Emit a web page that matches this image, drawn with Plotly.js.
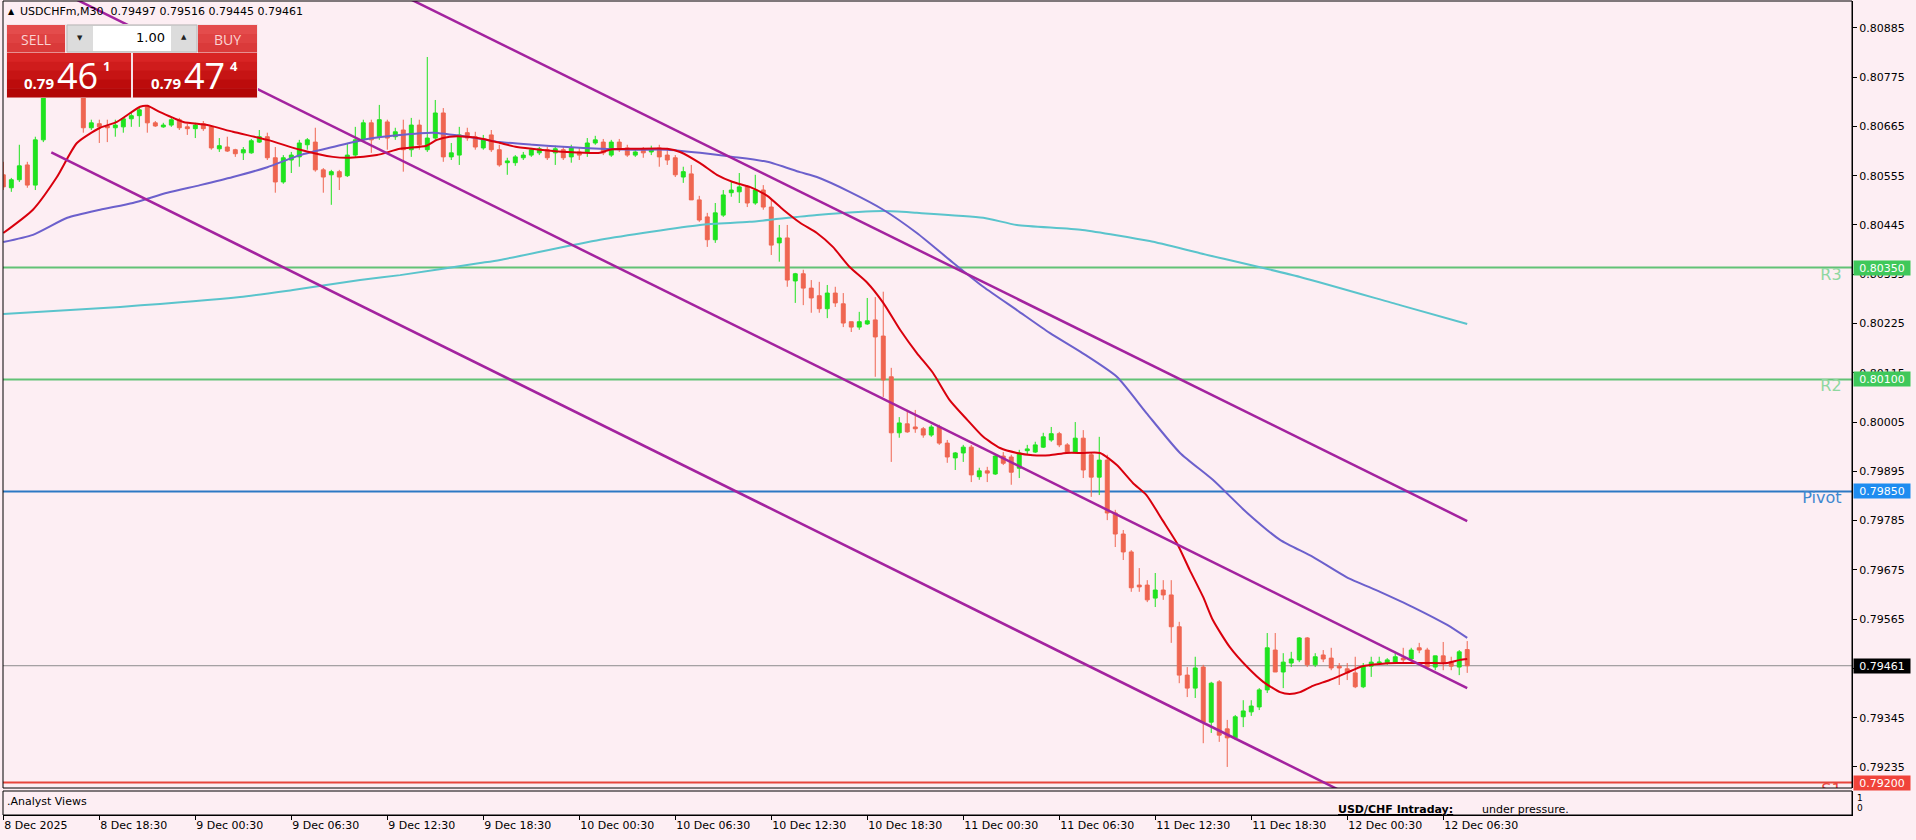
<!DOCTYPE html>
<html><head><meta charset="utf-8">
<script src="https://cdn.plot.ly/plotly-3.0.1.min.js"></script>
<style>html,body{margin:0;padding:0;background:#fdeef3;}#chart{width:1916px;height:840px;}</style>
</head><body><div id="chart"></div>
<script>
// ---------- DATA (USDCHFm, M30, 8 Dec 12:30 .. 12 Dec 08:00) ----------
const opens = [.80557,.80528,.80546,.80579,.80534,.80635,.80747,.80773,.80756,.80782,
.80747,.80662,.80671,.80666,.80662,.80664,.80682,.80689,.80709,.80673,
.80664,.80668,.80680,.80664,.80660,.80671,.80664,.80615,.80619,.80613,
.80606,.80606,.80630,.80642,.80595,.80541,.80590,.80597,.80624,.80630,
.80568,.80557,.80564,.80555,.80601,.80635,.80673,.80642,.80675,.80642,
.80657,.80613,.80668,.80613,.80639,.80695,.80597,.80601,.80651,.80642,
.80617,.80646,.80613,.80584,.80584,.80595,.80601,.80606,.80613,.80606,
.80613,.80597,.80608,.80608,.80628,.80630,.80601,.80630,.80617,.80601,
.80613,.80608,.80617,.80601,.80595,.80552,.80559,.80501,.80463,.80412,
.80467,.80517,.80519,.80530,.80494,.80523,.80485,.80405,.80416,.80320,
.80336,.80304,.80287,.80258,.80293,.80269,.80229,.80217,.80224,.80233,
.80197,.80106,.79981,.80001,.79994,.79990,.79976,.79994,.79958,.79925,
.79936,.79949,.79883,.79896,.79889,.79929,.79927,.79902,.79941,.79938,
.79949,.79965,.79979,.79954,.79938,.79969,.79932,.79882,.79920,.79802,
.79755,.79715,.79641,.79641,.79612,.79630,.79619,.79548,.79440,.79411,
.79458,.79335,.79425,.79320,.79300,.79347,.79358,.79369,.79407,.79496,
.79447,.79467,.79474,.79523,.79463,.79485,.79478,.79460,.79454,.79445,
.79414,.79460,.79467,.79467,.79469,.79478,.79476,.79501,.79496,.79458,
.79483,.79469,.79458,.79497];
const highs = [.80586,.80550,.80624,.80586,.80642,.80769,.80791,.80787,.80796,.80791,
.80758,.80680,.80680,.80680,.80680,.80686,.80695,.80706,.80713,.80677,
.80673,.80684,.80684,.80671,.80673,.80677,.80668,.80639,.80642,.80615,
.80619,.80637,.80657,.80651,.80619,.80601,.80608,.80635,.80639,.80662,
.80572,.80568,.80568,.80628,.80664,.80680,.80680,.80713,.80680,.80662,
.80680,.80684,.80680,.80820,.80724,.80706,.80628,.80664,.80662,.80653,
.80646,.80657,.80624,.80595,.80601,.80608,.80617,.80619,.80619,.80622,
.80619,.80624,.80617,.80639,.80644,.80637,.80635,.80637,.80624,.80615,
.80619,.80622,.80624,.80613,.80601,.80575,.80579,.80510,.80472,.80494,
.80523,.80541,.80561,.80534,.80557,.80534,.80501,.80445,.80445,.80338,
.80345,.80322,.80318,.80311,.80307,.80293,.80229,.80251,.80282,.80284,
.80296,.80126,.80016,.80032,.80032,.79994,.79999,.79999,.79965,.79938,
.79954,.79954,.79903,.79905,.79934,.79938,.79932,.79943,.79954,.79961,
.79981,.79994,.79983,.79958,.80005,.79987,.79936,.79972,.79932,.79809,
.79764,.79719,.79679,.79652,.79668,.79652,.79652,.79559,.79458,.79481,
.79463,.79425,.79429,.79340,.79351,.79384,.79384,.79411,.79534,.79534,
.79489,.79492,.79525,.79525,.79489,.79496,.79501,.79467,.79467,.79481,
.79467,.79481,.79481,.79478,.79492,.79501,.79501,.79512,.79501,.79478,
.79514,.79481,.79496,.79516];
const lows = [.80523,.80519,.80541,.80528,.80523,.80630,.80735,.80742,.80747,.80733,
.80651,.80657,.80628,.80630,.80642,.80651,.80664,.80664,.80651,.80664,
.80662,.80664,.80657,.80646,.80639,.80655,.80613,.80608,.80608,.80597,
.80590,.80604,.80628,.80590,.80517,.80537,.80561,.80575,.80613,.80564,
.80517,.80490,.80523,.80552,.80597,.80630,.80606,.80635,.80613,.80635,
.80564,.80597,.80613,.80608,.80635,.80586,.80590,.80579,.80633,.80613,
.80613,.80608,.80575,.80557,.80577,.80590,.80597,.80601,.80590,.80579,
.80590,.80584,.80590,.80597,.80624,.80601,.80597,.80608,.80597,.80597,
.80595,.80601,.80575,.80579,.80552,.80539,.80501,.80452,.80396,.80405,
.80463,.80508,.80494,.80485,.80490,.80479,.80378,.80363,.80307,.80271,
.80266,.80249,.80249,.80237,.80262,.80217,.80206,.80211,.80222,.80106,
.80061,.79916,.79970,.79981,.79981,.79970,.79972,.79954,.79914,.79898,
.79916,.79871,.79876,.79871,.79887,.79909,.79865,.79880,.79932,.79936,
.79947,.79961,.79949,.79936,.79936,.79880,.79838,.79842,.79786,.79726,
.79697,.79626,.79626,.79603,.79592,.79608,.79512,.79422,.79391,.79389,
.79288,.79311,.79291,.79235,.79295,.79324,.79349,.79362,.79400,.79447,
.79411,.79458,.79469,.79458,.79458,.79469,.79451,.79418,.79429,.79411,
.79411,.79436,.79463,.79463,.79467,.79469,.79474,.79489,.79456,.79451,
.79451,.79451,.79440,.79445];
const closes = [.80530,.80546,.80577,.80534,.80635,.80747,.80773,.80756,.80782,.80747,
.80662,.80673,.80664,.80662,.80668,.80682,.80689,.80702,.80673,.80666,
.80668,.80680,.80662,.80660,.80668,.80660,.80617,.80622,.80610,.80604,
.80613,.80633,.80642,.80595,.80541,.80595,.80601,.80628,.80635,.80568,
.80552,.80564,.80552,.80601,.80635,.80673,.80635,.80680,.80639,.80653,
.80613,.80668,.80624,.80639,.80695,.80597,.80606,.80646,.80639,.80619,
.80635,.80613,.80579,.80588,.80597,.80601,.80613,.80615,.80595,.80615,
.80595,.80617,.80601,.80628,.80635,.80606,.80630,.80613,.80601,.80608,
.80606,.80615,.80597,.80590,.80557,.80564,.80501,.80456,.80412,.80472,
.80512,.80523,.80530,.80494,.80523,.80485,.80400,.80416,.80322,.80336,
.80304,.80282,.80258,.80293,.80271,.80226,.80217,.80229,.80231,.80195,
.80099,.79981,.80003,.79983,.79990,.79976,.79994,.79958,.79927,.79936,
.79949,.79887,.79896,.79891,.79929,.79913,.79893,.79936,.79945,.79954,
.79972,.79979,.79954,.79938,.79969,.79898,.79882,.79920,.79802,.79755,
.79715,.79635,.79637,.79608,.79630,.79619,.79548,.79440,.79411,.79456,
.79335,.79422,.79306,.79300,.79347,.79360,.79371,.79407,.79501,.79447,
.79469,.79476,.79523,.79463,.79481,.79476,.79456,.79456,.79445,.79414,
.79460,.79469,.79469,.79474,.79481,.79474,.79496,.79496,.79458,.79483,
.79469,.79460,.79492,.79461];

const xTickIdx  = [0,12,24,36,48,60,72,84,96,108,120,132,144,156,168,180];
const xTickText = ['8 Dec 2025','8 Dec 18:30','9 Dec 00:30','9 Dec 06:30','9 Dec 12:30','9 Dec 18:30',
  '10 Dec 00:30','10 Dec 06:30','10 Dec 12:30','10 Dec 18:30','11 Dec 00:30','11 Dec 06:30',
  '11 Dec 12:30','11 Dec 18:30','12 Dec 00:30','12 Dec 06:30'];

// moving averages (bar position, price)
const maRedX = [0,3.7,6.7,9.2,12.1,14.2,17.1,18,19.6,22.5,25.5,28.7,33,37.1,41.2,43.3,46.7,49.6,52.9,54.2,55.8,58,60,62.1,64.2,67.1,70.5,74.6,75.8,78.7,83,84.6,87.1,89.2,91.2,93.3,95.5,97.5,99.6,101.7,103.7,105.8,108,110,112.1,114.2,116.2,118.3,120.5,122.5,124.6,126.7,128.7,130.8,132.9,134.9,137.1,139.2,141.2,142.9,144.9,146.7,148.3,150,151.2,153.3,155.5,157.5,159.6,160.8,162.1,163.7,165.8,167.9,169.9,172.1,174.2,176.2,178.3,180.5,182.1,183];
const maRedY = [.80427,.80479,.80552,.80628,.80662,.80675,.80709,.80711,.80697,.80675,.80668,.80653,.80635,.80613,.80597,.80595,.80601,.80615,.80622,.80635,.80642,.80642,.80637,.80628,.80619,.80613,.80608,.80606,.80613,.80615,.80615,.80608,.80583,.80557,.80541,.80530,.80510,.80479,.80450,.80427,.80396,.80351,.80316,.80271,.80211,.80159,.80115,.80054,.80010,.79972,.79947,.79936,.79931,.79931,.79936,.79936,.79936,.79909,.79869,.79842,.79786,.79735,.79675,.79614,.79563,.79503,.79458,.79425,.79402,.79398,.79402,.79416,.79429,.79445,.79460,.79465,.79467,.79467,.79467,.79467,.79474,.79476];
const maBlueX = [0,3.7,8,12.1,16.2,20.5,24.6,28.7,33,37.1,41.2,45.5,49.6,53.7,58,62.1,66.2,70.5,74.6,78.7,83,87.1,91.2,95.5,99.6,101.7,105.8,110,114.2,118.3,122.5,126.7,130.8,134.9,139.2,142.9,147.1,151.2,155.5,159.6,163.7,167.9,172.1,176.2,180.5,183];
const maBlueY = [.80407,.80423,.80461,.80479,.80494,.80517,.80534,.80552,.80574,.80601,.80619,.80637,.80646,.80651,.80642,.80630,.80624,.80619,.80615,.80613,.80613,.80606,.80597,.80586,.80563,.80552,.80519,.80479,.80427,.80367,.80307,.80255,.80204,.80159,.80106,.80025,.79936,.79876,.79802,.79742,.79704,.79659,.79626,.79592,.79552,.79523];
const maCyanX = [0,14.6,29.6,36.2,44.6,49.6,59.6,62.1,74.6,87.1,93.3,101.7,110,114.2,122.5,126.7,134.9,143.3,149.6,162.1,174.6,183];
const maCyanY = [.80246,.80262,.80284,.80300,.80322,.80333,.80360,.80367,.80412,.80445,.80452,.80467,.80476,.80472,.80461,.80445,.80434,.80409,.80382,.80329,.80266,.80224];

// channel lines (bar position of ends, price at ends)
const channelX = [[40,183],[0,183],[6,183]];
const channelY = [[0.81045,0.79784],[0.81029,0.79411],[0.80607,0.79042]];

// pivot levels
const levelNames  = ['R3','R2','Pivot','S1'];
const levelValues = [0.80350,0.80100,0.79850,0.79200];
const levelLine   = ['#62c276','#62c276','#2c78c4','#e8453c'];
const levelBox    = ['#3fc85a','#3fc85a','#1e8cf0','#f0433a'];
const levelText   = ['#8fd7a0','#8fd7a0','#3f88d0','#e8453c'];

const askPrice = 0.79474;
const symbolName = 'USDCHFm,M30';
const lotSize = '1.00';
const analystHead = 'USD/CHF Intraday:';
const analystText = 'under pressure.';

// ---------- DRAWING ----------
const BG = '#fdeef3';
const n = closes.length;
const barIndex = closes.map((_, i) => i);
const bidPrice = closes[n - 1];

const L0 = 3, R0 = 1852, T0 = 1, B0 = 815;
const px = v => (v - L0) / (R0 - L0);
const py = v => (B0 - v) / (B0 - T0);
const mainBottom = 788, subTop = 791;

const traces = [];
traces.push({
  type: 'candlestick', x: barIndex, open: opens, high: highs, low: lows, close: closes,
  increasing: {line: {color: '#1fe31f', width: 1}, fillcolor: '#1fe31f'},
  decreasing: {line: {color: '#ef6651', width: 1}, fillcolor: '#ef6651'},
  whiskerwidth: 0, hoverinfo: 'none', xaxis: 'x', yaxis: 'y'
});
function maTrace(x, y, color) {
  return {type: 'scatter', mode: 'lines', x: x, y: y, line: {color: color, width: 2, shape: 'spline', smoothing: 0.6},
    hoverinfo: 'skip', xaxis: 'x', yaxis: 'y'};
}
traces.push(maTrace(maCyanX, maCyanY, '#5ac4cc'));
traces.push(maTrace(maBlueX, maBlueY, '#6c60cc'));
traces.push(maTrace(maRedX, maRedY, '#d9000d'));
for (let k = 0; k < channelX.length; k++) {
  traces.push({type: 'scatter', mode: 'lines', x: channelX[k], y: channelY[k],
    line: {color: '#a3239f', width: 2.5}, hoverinfo: 'skip', xaxis: 'x', yaxis: 'y'});
}
traces.push({type: 'scatter', mode: 'text', x: levelNames.map(() => 229.8), y: levelValues,
  text: levelNames, textposition: 'bottom left', cliponaxis: true,
  textfont: {family: 'DejaVu Sans', size: 16, color: levelText}, hoverinfo: 'skip', xaxis: 'x', yaxis: 'y'});
traces.push({type: 'scatter', mode: 'markers', x: [0], y: [-5], marker: {opacity: 0}, hoverinfo: 'skip', xaxis: 'x', yaxis: 'y2'});

const shapes = [];
levelValues.forEach((v, i) => shapes.push({type: 'line', xref: 'paper', x0: 0, x1: 1, yref: 'y', y0: v, y1: v,
  line: {color: levelLine[i], width: 2}, layer: 'below'}));
shapes.push({type: 'line', xref: 'paper', x0: 0, x1: 1, yref: 'y', y0: bidPrice, y1: bidPrice,
  line: {color: '#8c8c8c', width: 1}, layer: 'below'});
// panel frames
shapes.push({type: 'rect', xref: 'paper', yref: 'paper', x0: 0, x1: 1, y0: py(mainBottom), y1: 1,
  line: {color: '#000', width: 1}, fillcolor: 'rgba(0,0,0,0)', layer: 'above'});
shapes.push({type: 'rect', xref: 'paper', yref: 'paper', x0: 0, x1: 1, y0: 0, y1: py(subTop),
  line: {color: '#000', width: 1}, fillcolor: 'rgba(0,0,0,0)', layer: 'above'});

function box(x0, y0, x1, y1, fill, lineColor) {
  shapes.push({type: 'rect', xref: 'paper', yref: 'paper', x0: px(x0), x1: px(x1), y0: py(y1), y1: py(y0),
    fillcolor: fill, line: {width: lineColor ? 1 : 0, color: lineColor || fill}, layer: 'above'});
}
function gradBox(x0, y0, x1, y1, cols) {
  const h = (y1 - y0) / cols.length;
  cols.forEach((c, i) => box(x0, y0 + i * h, x1, y0 + (i + 1) * h + 0.5, c));
}
// one-click trading panel
box(6, 24, 258, 98, '#f4e4e8');
gradBox(7, 25, 65, 52, ['#e44c4c', '#df4242', '#da3a3a']);
gradBox(198, 25, 257, 52, ['#e44c4c', '#df4242', '#da3a3a']);
box(67, 25, 197, 52, '#dcdcdc', '#b8b8b8');
box(93, 26, 171, 51, '#ffffff');
gradBox(7, 53, 131, 97, ['#d82424', '#cf1c1c', '#c61414', '#bc0c0c', '#b30606']);
gradBox(133, 53, 257, 97, ['#d82424', '#cf1c1c', '#c61414', '#bc0c0c', '#b30606']);

const annotations = [];
function txt(x, y, text, size, color, opts) {
  annotations.push(Object.assign({xref: 'paper', yref: 'paper', x: px(x), y: py(y), text: text, showarrow: false,
    xanchor: 'left', yanchor: 'middle', font: {family: 'DejaVu Sans', size: size, color: color}}, opts || {}));
}
// header
txt(6, 12, '▲', 8, '#000');
txt(18, 12, symbolName + '  ' + [opens[n-1], highs[n-1], lows[n-1], closes[n-1]].map(v => v.toFixed(5)).join(' '), 11, '#000');
// panel text
const PF = 'Open Sans';
txt(36, 39, 'SELL', 13, '#fbd3d3', {xanchor: 'center', font: {family: PF, size: 14, color: '#fbd3d3'}});
txt(227, 39, 'BUY', 13, '#fbd3d3', {xanchor: 'center', font: {family: PF, size: 14, color: '#fbd3d3'}});
txt(80, 38, '▼', 7, '#222', {xanchor: 'center'});
txt(184, 37, '▲', 7, '#222', {xanchor: 'center'});
txt(167, 38, lotSize, 13, '#000', {xanchor: 'right'});
function quote(x0, price) {
  const s = price.toFixed(5);
  txt(x0, 83, s.slice(0, 4), 15, '#fff', {font: {family: PF, size: 15, color: '#fff', weight: 'bold'}});
  txt(x0 + 33, 76, s.slice(4, 6), 35, '#fff', {font: {family: PF, size: 36, color: '#fff'}});
  txt(x0 + 79, 66, s.slice(6), 13, '#fff', {font: {family: PF, size: 13, color: '#fff', weight: 'bold'}});
}
quote(22, bidPrice);
quote(149, askPrice);
// axis price boxes
levelValues.forEach((v, i) => annotations.push({xref: 'paper', x: 1, xanchor: 'left', xshift: 1, yref: 'y', y: v,
  yanchor: 'middle', text: v.toFixed(5), showarrow: false, bgcolor: levelBox[i], width: 54, height: 12,
  font: {family: 'DejaVu Sans', size: 11, color: '#ffffff'}}));
annotations.push({xref: 'paper', x: 1, xanchor: 'left', xshift: 1, yref: 'y', y: bidPrice, yanchor: 'middle',
  text: bidPrice.toFixed(5), showarrow: false, bgcolor: '#000000', width: 54, height: 12,
  font: {family: 'DejaVu Sans', size: 11, color: '#ffffff'}});
// sub window
txt(5, 801, '.Analyst Views', 11, '#000');
txt(1336, 809, '<b><u>' + analystHead + '</u></b>', 11, '#000');
txt(1480, 809, analystText, 11, '#000');
txt(1855, 798, '1', 9, '#000');
txt(1855, 808, '0', 9, '#000');

const layout = {
  width: 1916, height: 840,
  margin: {l: L0, r: 1916 - R0, t: T0, b: 840 - B0, pad: 0},
  paper_bgcolor: BG, plot_bgcolor: BG, showlegend: false,
  font: {family: 'DejaVu Sans', size: 11, color: '#000'},
  xaxis: {domain: [0, 1], anchor: 'y2', range: [-0.04, 231.1], showgrid: false, zeroline: false,
    showline: true, linecolor: '#000', linewidth: 1, ticks: 'outside', ticklen: 4, tickcolor: '#000',
    tickmode: 'array', tickvals: xTickIdx, ticktext: xTickText, ticklabelposition: 'outside right',
    tickfont: {size: 11, color: '#000'}, rangeslider: {visible: false}, fixedrange: true},
  yaxis: {domain: [py(mainBottom), 1], anchor: 'x', side: 'right', range: [0.79188, 0.80945],
    tick0: 0.80885, dtick: 0.0011, tickformat: '.5f', ticks: 'outside', ticklen: 4, tickcolor: '#000',
    showline: true, linecolor: '#000', showgrid: false, zeroline: false, tickfont: {size: 11, color: '#000'}, fixedrange: true},
  yaxis2: {domain: [0, py(subTop)], anchor: 'x', side: 'right', range: [0, 1], showticklabels: false, ticks: '',
    showgrid: false, zeroline: false, showline: true, linecolor: '#000', fixedrange: true},
  shapes: shapes, annotations: annotations
};
Plotly.newPlot('chart', traces, layout, {displayModeBar: false, staticPlot: true});
</script></body></html>
